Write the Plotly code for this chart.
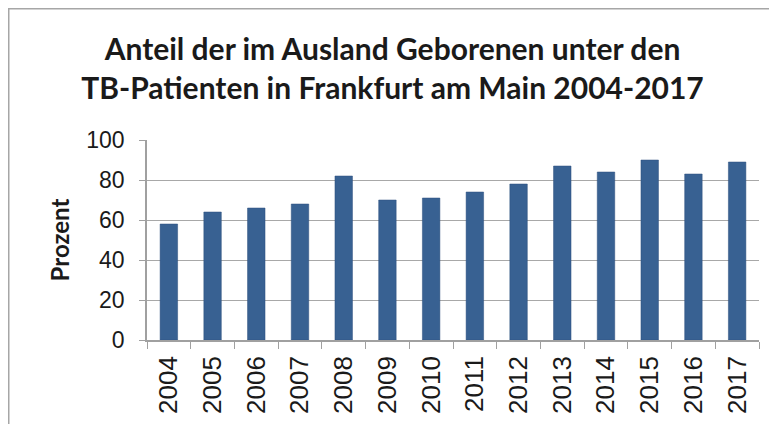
import plotly.graph_objects as go

years = ["2004", "2005", "2006", "2007", "2008", "2009", "2010",
         "2011", "2012", "2013", "2014", "2015", "2016", "2017"]
percent = [58, 64, 66, 68, 82, 70, 71, 74, 78, 87, 84, 90, 83, 89]
y_ticks = [0, 20, 40, 60, 80, 100]

title_text = ("Anteil der im Ausland Geborenen unter den<br>"
              "TB-Patienten in Frankfurt am Main 2004-2017")

# page body adds an 8px offset, so the figure is sized 769x416
W, H = 769, 416
L, R, T, B = 139, 18, 132, 84
pw, ph = W - L - R, H - T - B

fig = go.Figure()
fig.add_trace(go.Bar(
    x=years, y=percent,
    marker=dict(color="#386192", line=dict(color="#2c4f7c", width=0.5)),
))

fig.update_layout(
    width=W, height=H,
    margin=dict(l=L, r=R, t=T, b=B, autoexpand=False),
    paper_bgcolor="white", plot_bgcolor="white",
    bargap=0.6,
    showlegend=False,
    title=dict(text=title_text, x=0.5, xanchor="center", y=1 - 52 / H, yanchor="middle",
               font=dict(family="Lato", size=30, color="#1a1a1a", weight="bold")),
    font=dict(family="Liberation Sans", color="#1a1a1a"),
    shapes=[dict(type="rect", xref="paper", yref="paper",
                 x0=(0.75 - L) / pw, x1=1.2, y0=-0.8, y1=(ph + T - 0.75) / ph,
                 line=dict(color="#a6a6a6", width=1.5), layer="below")],
)

fig.update_xaxes(
    type="category", tickangle=-90, tickfont=dict(size=26),
    showline=True, linecolor="#a0a0a0", linewidth=1.5,
    ticks="outside", tickson="boundaries", ticklen=7, tickcolor="#a0a0a0",
    showgrid=False, ticklabelstandoff=4,
)
fig.update_yaxes(
    range=[0, 100], tickvals=y_ticks, tickfont=dict(size=23),
    showline=True, linecolor="#a0a0a0", linewidth=1.5,
    ticks="outside", ticklen=6, tickcolor="#a0a0a0",
    showgrid=True, gridcolor="#a8a8a8", gridwidth=1.2,
    ticklabelstandoff=10,
    title=dict(text="<b>Prozent</b>", font=dict(size=24, family="Lato"), standoff=10),
)

fig.write_html("out.html")
